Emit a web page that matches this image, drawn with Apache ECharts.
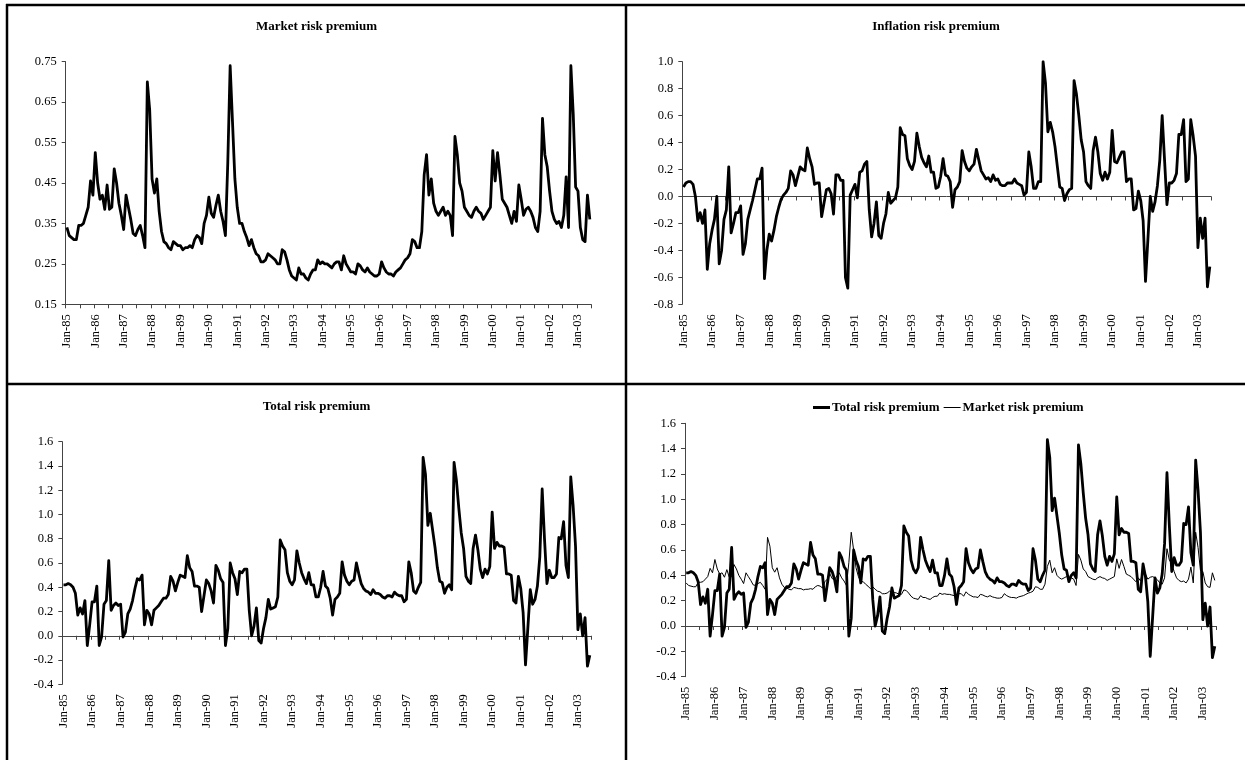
<!DOCTYPE html>
<html>
<head>
<meta charset="utf-8">
<script src="https://cdn.jsdelivr.net/npm/echarts@6/dist/echarts.min.js"></script>
<style>
html,body{margin:0;padding:0;background:#fff;}
#chart{width:1245px;height:760px;}
</style>
</head>
<body>
<div id="chart"></div>
<script>
// ---- categories (monthly, Jan-85 .. Jun-03) ----
const monthNames = ['Jan','Feb','Mar','Apr','May','Jun','Jul','Aug','Sep','Oct','Nov','Dec'];
const yearLabels = ['85','86','87','88','89','90','91','92','93','94','95','96','97','98','99','00','01','02','03'];
const lastYearMonths = 6;

// ---- series values ----
const marketRisk = [
0.34,0.32,0.315,0.31,0.31,0.345,0.345,0.35,0.37,0.39,0.455,0.42,
0.525,0.45,0.41,0.42,0.385,0.445,0.385,0.39,0.485,0.45,0.40,0.37,
0.335,0.42,0.39,0.36,0.325,0.32,0.335,0.345,0.32,0.29,0.70,0.63,
0.46,0.425,0.46,0.38,0.33,0.305,0.30,0.29,0.285,0.305,0.30,0.295,
0.295,0.285,0.29,0.29,0.295,0.29,0.31,0.32,0.315,0.30,0.35,0.37,
0.415,0.375,0.365,0.395,0.42,0.38,0.355,0.32,0.50,0.74,0.60,0.46,
0.39,0.35,0.35,0.33,0.315,0.295,0.31,0.29,0.275,0.27,0.255,0.255,
0.26,0.275,0.27,0.265,0.26,0.25,0.25,0.285,0.28,0.26,0.235,0.22,
0.215,0.21,0.24,0.225,0.225,0.215,0.21,0.225,0.235,0.235,0.26,0.25,
0.255,0.25,0.25,0.245,0.24,0.25,0.255,0.255,0.235,0.27,0.25,0.24,
0.23,0.23,0.225,0.25,0.245,0.235,0.23,0.24,0.23,0.225,0.22,0.22,
0.225,0.255,0.24,0.23,0.225,0.225,0.22,0.23,0.235,0.24,0.25,0.26,
0.265,0.275,0.31,0.305,0.29,0.29,0.33,0.47,0.52,0.42,0.46,0.40,
0.38,0.37,0.38,0.39,0.37,0.38,0.37,0.32,0.565,0.52,0.45,0.43,
0.39,0.38,0.37,0.365,0.38,0.39,0.38,0.375,0.36,0.37,0.38,0.39,
0.53,0.455,0.525,0.47,0.41,0.40,0.39,0.37,0.35,0.38,0.355,0.445,
0.41,0.37,0.385,0.39,0.38,0.365,0.34,0.33,0.38,0.61,0.52,0.49,
0.43,0.38,0.36,0.35,0.355,0.34,0.37,0.465,0.34,0.74,0.62,0.44,
0.43,0.34,0.31,0.305,0.42,0.36
];

const inflationRisk = [
0.07,0.10,0.11,0.11,0.09,0.0,-0.18,-0.12,-0.20,-0.10,-0.54,-0.35,
-0.25,-0.17,0.0,-0.50,-0.40,-0.17,-0.10,0.22,-0.27,-0.20,-0.12,-0.12,
-0.07,-0.43,-0.35,-0.17,-0.10,-0.03,0.05,0.13,0.13,0.21,-0.61,-0.40,
-0.28,-0.33,-0.25,-0.15,-0.08,-0.02,0.01,0.03,0.06,0.19,0.16,0.08,
0.15,0.22,0.20,0.19,0.36,0.28,0.22,0.09,0.10,0.10,-0.15,-0.05,
0.05,0.06,0.02,-0.13,0.16,0.16,0.12,0.12,-0.60,-0.68,0.01,0.05,
0.09,-0.01,0.18,0.19,0.24,0.26,-0.10,-0.30,-0.20,-0.04,-0.29,-0.31,
-0.20,-0.13,0.03,-0.05,-0.03,-0.01,0.07,0.51,0.46,0.45,0.28,0.23,
0.20,0.26,0.47,0.37,0.29,0.25,0.22,0.30,0.18,0.18,0.06,0.07,
0.15,0.28,0.16,0.15,0.11,-0.08,0.05,0.07,0.11,0.34,0.26,0.21,
0.19,0.22,0.24,0.35,0.27,0.19,0.16,0.13,0.14,0.11,0.16,0.12,
0.13,0.09,0.08,0.08,0.10,0.10,0.10,0.13,0.10,0.09,0.08,0.01,
0.03,0.33,0.22,0.06,0.06,0.11,0.11,1.0,0.84,0.48,0.55,0.48,
0.37,0.22,0.07,0.06,-0.03,0.02,0.05,0.06,0.86,0.76,0.60,0.42,
0.33,0.11,0.08,0.06,0.34,0.44,0.33,0.17,0.12,0.18,0.13,0.18,
0.49,0.26,0.25,0.29,0.33,0.33,0.11,0.13,0.13,-0.10,-0.09,0.04,
-0.03,-0.18,-0.63,-0.32,0.0,-0.11,-0.04,0.08,0.27,0.60,0.27,-0.06,
0.10,0.10,0.12,0.17,0.46,0.46,0.57,0.11,0.13,0.57,0.45,0.30,
-0.38,-0.16,-0.31,-0.16,-0.67,-0.52
];

const totalRisk = [
0.42,0.42,0.43,0.42,0.40,0.35,0.17,0.23,0.18,0.29,-0.08,0.09,
0.28,0.28,0.41,-0.08,-0.01,0.26,0.29,0.62,0.21,0.25,0.27,0.25,
0.26,-0.01,0.03,0.18,0.22,0.29,0.39,0.47,0.46,0.50,0.09,0.21,
0.18,0.09,0.21,0.23,0.25,0.28,0.31,0.31,0.34,0.49,0.45,0.37,
0.44,0.50,0.49,0.48,0.66,0.56,0.53,0.41,0.41,0.40,0.20,0.33,
0.46,0.43,0.37,0.27,0.58,0.54,0.47,0.44,-0.08,0.06,0.60,0.52,
0.47,0.34,0.53,0.52,0.55,0.55,0.21,0.0,0.08,0.23,-0.04,-0.06,
0.06,0.15,0.30,0.22,0.23,0.24,0.32,0.79,0.74,0.71,0.52,0.45,
0.42,0.46,0.70,0.60,0.52,0.47,0.43,0.52,0.42,0.42,0.32,0.32,
0.40,0.53,0.41,0.39,0.31,0.17,0.30,0.32,0.35,0.61,0.50,0.45,
0.42,0.45,0.46,0.60,0.51,0.43,0.39,0.37,0.36,0.34,0.38,0.35,
0.35,0.34,0.32,0.31,0.33,0.33,0.32,0.36,0.34,0.33,0.33,0.28,
0.30,0.61,0.52,0.37,0.35,0.40,0.44,1.47,1.33,0.91,1.01,0.87,
0.73,0.56,0.45,0.44,0.35,0.40,0.42,0.38,1.43,1.28,1.05,0.85,
0.72,0.49,0.45,0.43,0.72,0.83,0.71,0.55,0.48,0.55,0.51,0.57,
1.02,0.72,0.77,0.74,0.74,0.73,0.51,0.51,0.50,0.29,0.27,0.49,
0.39,0.19,-0.24,0.07,0.38,0.26,0.30,0.41,0.65,1.21,0.79,0.43,
0.54,0.48,0.48,0.51,0.81,0.80,0.94,0.58,0.48,1.31,1.07,0.74,
0.05,0.18,0.0,0.15,-0.25,-0.16
];

// ---- tick labels ----
const marketTicks = [0.15,0.25,0.35,0.45,0.55,0.65,0.75];
const inflationTicks = [-0.8,-0.6,-0.4,-0.2,0.0,0.2,0.4,0.6,0.8,1.0];
const totalTicks = [-0.4,-0.2,0.0,0.2,0.4,0.6,0.8,1.0,1.2,1.4,1.6];

// ---- titles ----
const panelTitles = ['Market risk premium','Inflation risk premium','Total risk premium'];
const legendNames = ['Total risk premium','Market risk premium'];

const categories = [];
yearLabels.forEach((y, yi) => {
  const n = (yi === yearLabels.length - 1) ? lastYearMonths : 12;
  for (let m = 0; m < n; m++) categories.push(monthNames[m] + '-' + y);
});

const FONT = "'Liberation Serif','Times New Roman',serif";
const AX = '#444';
const THICK = 2.8;

const grids = [
  {left: 65.7, top: 61.7, width: 525.3, height: 242.6},
  {left: 682.3, top: 61.7, width: 528.7, height: 242.6},
  {left: 62.3, top: 441.7, width: 528.7, height: 242.6},
  {left: 685, top: 423.3, width: 531, height: 253.4}
];

function labelAxis(gi, showLine) {
  return {
    type: 'category', gridIndex: gi, data: categories, boundaryGap: true,
    position: 'bottom',
    axisLine: {show: showLine, onZero: false, lineStyle: {color: AX, width: 1}},
    axisTick: {show: showLine, interval: 5, length: 4, lineStyle: {color: AX}},
    axisLabel: {show: true, interval: 11, rotate: 90, margin: 10,
      fontFamily: FONT, fontSize: 12.5, color: '#000'},
    splitLine: {show: false}
  };
}
function zeroAxis(gi) {
  return {
    type: 'category', gridIndex: gi, data: categories, boundaryGap: true,
    position: 'bottom',
    axisLine: {show: true, onZero: true, lineStyle: {color: AX, width: 1}},
    axisTick: {show: true, interval: 5, length: 4, lineStyle: {color: AX}},
    axisLabel: {show: false},
    splitLine: {show: false}
  };
}
function valAxis(gi, ticks, dec) {
  return {
    type: 'value', gridIndex: gi, min: ticks[0], max: ticks[ticks.length - 1],
    axisLine: {show: true, lineStyle: {color: AX, width: 1}},
    axisTick: {show: true, length: 4, customValues: ticks, lineStyle: {color: AX}},
    axisLabel: {customValues: ticks, margin: 9, fontFamily: FONT, fontSize: 12.5, color: '#000',
      formatter: v => Number(v).toFixed(dec)},
    splitLine: {show: false}
  };
}

const xAxes = [
  labelAxis(0, true),   // 0
  labelAxis(1, false),  // 1
  zeroAxis(1),          // 2
  labelAxis(2, false),  // 3
  zeroAxis(2),          // 4
  labelAxis(3, false),  // 5
  zeroAxis(3)           // 6
];
const yAxes = [
  valAxis(0, marketTicks, 2),
  valAxis(1, inflationTicks, 1),
  valAxis(2, totalTicks, 1),
  valAxis(3, totalTicks, 1)
];

function lineSeries(name, data, xi, yi, w) {
  return {
    name: name, type: 'line', data: data, xAxisIndex: xi, yAxisIndex: yi,
    symbol: 'none', smooth: false, animation: false,
    lineStyle: {color: '#000', width: w, join: 'round'}, itemStyle: {color: '#000'}
  };
}

const series = [
  lineSeries(panelTitles[0], marketRisk, 0, 0, THICK),
  lineSeries(panelTitles[1], inflationRisk, 1, 1, THICK),
  lineSeries(panelTitles[2], totalRisk, 3, 2, THICK),
  lineSeries(legendNames[0], totalRisk, 5, 3, THICK),
  lineSeries(legendNames[1], marketRisk, 5, 3, 1)
];

function border(x1, y1, x2, y2) {
  return {type: 'line', silent: true, shape: {x1, y1, x2, y2},
    style: {stroke: '#000', lineWidth: 2.5}};
}
function titleText(txt, x, y) {
  return {type: 'text', silent: true, x: x, y: y,
    style: {text: txt, font: "bold 13px " + FONT, fill: '#000',
      align: 'center', verticalAlign: 'middle'}};
}

const option = {
  animation: false,
  backgroundColor: '#fff',
  grid: grids,
  xAxis: xAxes,
  yAxis: yAxes,
  legend: {
    data: [
      {name: legendNames[0], icon: 'path://M0,0H17V3H0Z'},
      {name: legendNames[1], icon: 'path://M0,0H17V1H0Z'}
    ],
    left: 808, top: 396, itemWidth: 17, itemHeight: 14, itemGap: 4,
    symbolKeepAspect: true,
    textStyle: {fontFamily: FONT, fontSize: 13, fontWeight: 'bold', color: '#000', padding: [0, 0, 0, -3]},
    selectedMode: false
  },
  series: series,
  graphic: [
    border(6, 5, 1245, 5),
    border(7, 4, 7, 760),
    border(626, 4, 626, 760),
    border(6, 384, 1245, 384),
    titleText(panelTitles[0], 316.5, 27),
    titleText(panelTitles[1], 936, 27),
    titleText(panelTitles[2], 316.5, 407)
  ]
};

const chart = echarts.init(document.getElementById('chart'), null, {renderer: 'canvas'});
chart.setOption(option);
</script>
</body>
</html>
